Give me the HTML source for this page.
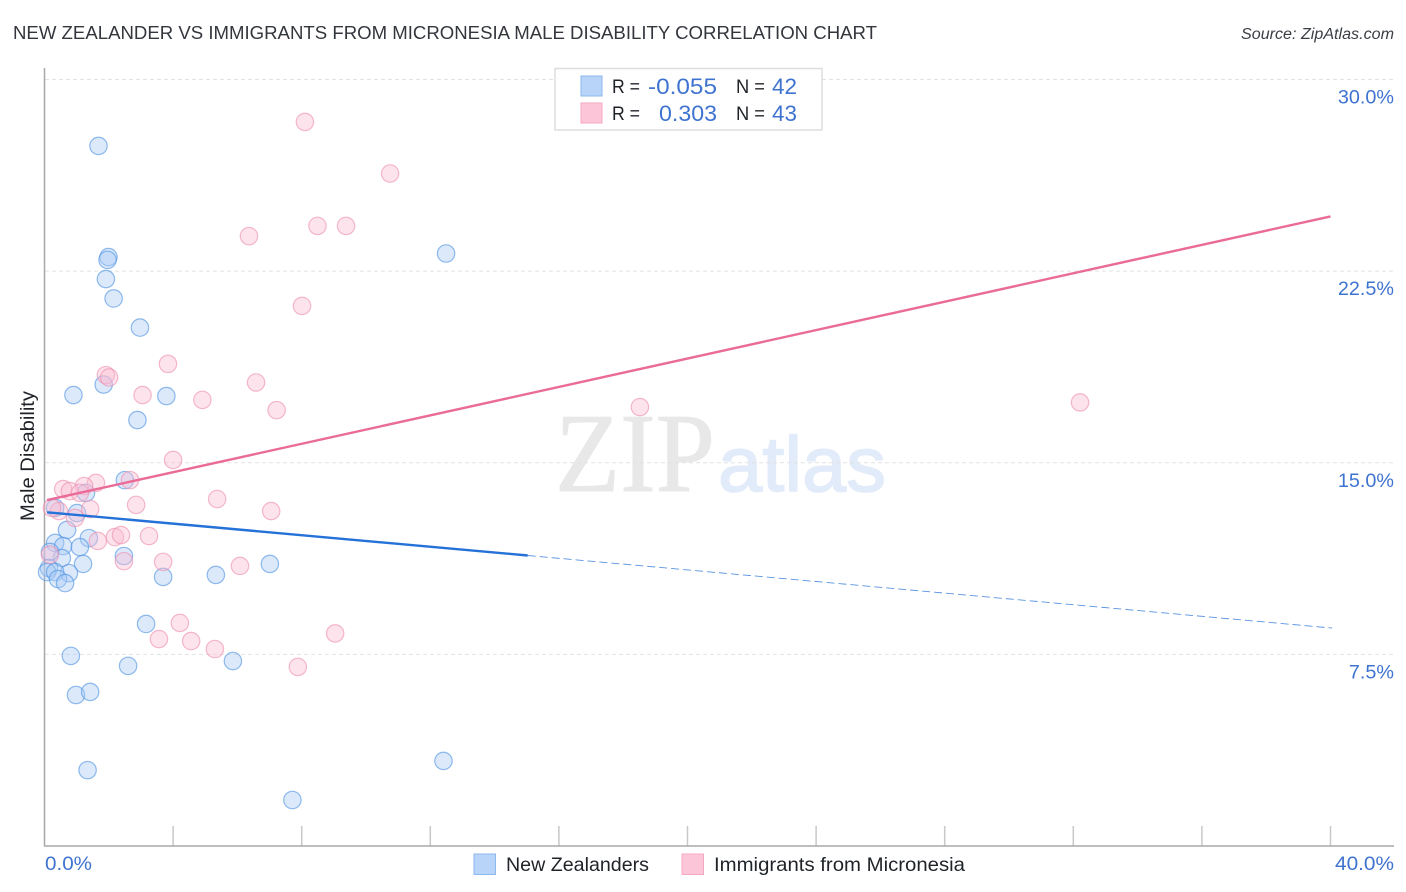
<!DOCTYPE html>
<html>
<head>
<meta charset="utf-8">
<title>New Zealander vs Immigrants from Micronesia Male Disability Correlation Chart</title>
<style>
html,body{margin:0;padding:0;background:#fff;width:1406px;height:892px;overflow:hidden}
svg{display:block;font-family:"Liberation Sans",sans-serif}
</style>
</head>
<body>
<svg id="chart" width="1406" height="892" viewBox="0 0 1406 892" xmlns="http://www.w3.org/2000/svg">
  <rect x="0" y="0" width="1406" height="892" fill="#ffffff"/>
  <g>
    <text x="555" y="491" font-family="'Liberation Serif',serif" font-size="112" fill="#e8e8e8" stroke="#e8e8e8" stroke-width="1" textLength="160" lengthAdjust="spacingAndGlyphs">ZIP</text>
    <text x="718" y="491" font-size="78" fill="#e2ebf9" stroke="#e2ebf9" stroke-width="1.5" textLength="168" lengthAdjust="spacingAndGlyphs">atlas</text>
  </g>
  <g id="grid"></g>
  <g id="xticks"></g>
  <line x1="44.5" y1="68" x2="44.5" y2="846" stroke="#a8a8a8" stroke-width="1.5"/>
  <line x1="44" y1="846" x2="1394" y2="846" stroke="#a8a8a8" stroke-width="1.5"/>
  <g id="points-blue"></g>
  <g id="points-pink"></g>
  <g id="lines"></g>
  <g id="ylabels"></g>
  <text x="45" y="870" font-size="19.5" fill="#3f73d0" textLength="47" lengthAdjust="spacingAndGlyphs">0.0%</text>
  <text x="1335" y="870" font-size="19.5" fill="#3f73d0" textLength="59" lengthAdjust="spacingAndGlyphs">40.0%</text>
  <text x="13" y="39" font-size="18.5" fill="#33373d" textLength="864" lengthAdjust="spacingAndGlyphs">NEW ZEALANDER VS IMMIGRANTS FROM MICRONESIA MALE DISABILITY CORRELATION CHART</text>
  <text x="1241" y="39" font-size="15.5" font-style="italic" fill="#3a3f46" textLength="153" lengthAdjust="spacingAndGlyphs">Source: ZipAtlas.com</text>
  <text transform="translate(34,521) rotate(-90)" font-size="19" fill="#1f2328" textLength="130" lengthAdjust="spacingAndGlyphs">Male Disability</text>
  <g>
    <rect x="555" y="68.500" width="267" height="61.500" fill="#ffffff" stroke="#dedede" stroke-width="1.5"/>
    <rect x="581" y="76" width="21" height="20" fill="#b8d4f8" stroke="#8db8ec" stroke-width="1"/>
    <rect x="581" y="103" width="21" height="20" fill="#fcc6d8" stroke="#f3a9c2" stroke-width="1"/>
    <text x="612" y="93" font-size="19.500" fill="#1f2328" textLength="28" lengthAdjust="spacingAndGlyphs">R =</text>
    <text x="648" y="94" font-size="22" fill="#3f73d0" textLength="69" lengthAdjust="spacingAndGlyphs">-0.055</text>
    <text x="736" y="93" font-size="19.500" fill="#1f2328" textLength="29" lengthAdjust="spacingAndGlyphs">N =</text>
    <text x="772" y="94" font-size="22" fill="#3f73d0" textLength="25" lengthAdjust="spacingAndGlyphs">42</text>
    <text x="612" y="120" font-size="19.500" fill="#1f2328" textLength="28" lengthAdjust="spacingAndGlyphs">R =</text>
    <text x="659" y="121" font-size="22" fill="#3f73d0" textLength="58" lengthAdjust="spacingAndGlyphs">0.303</text>
    <text x="736" y="120" font-size="19.500" fill="#1f2328" textLength="29" lengthAdjust="spacingAndGlyphs">N =</text>
    <text x="772" y="121" font-size="22" fill="#3f73d0" textLength="25" lengthAdjust="spacingAndGlyphs">43</text>
  </g>
  <g>
    <rect x="474" y="854" width="21.500" height="20.500" fill="#b8d4f8" stroke="#8db8ec" stroke-width="1"/>
    <text x="506" y="871" font-size="19.500" fill="#1f2328" textLength="143" lengthAdjust="spacingAndGlyphs">New Zealanders</text>
    <rect x="682" y="854" width="21.500" height="20.500" fill="#fcc6d8" stroke="#f3a9c2" stroke-width="1"/>
    <text x="714" y="871" font-size="19.500" fill="#1f2328" textLength="251" lengthAdjust="spacingAndGlyphs">Immigrants from Micronesia</text>
  </g>
</svg>
<script>
const yTickValues = [7.5, 15, 22.5, 30];
const yTickLabels = ["7.5%", "15.0%", "22.5%", "30.0%"];
const xTickValues = [0, 4, 8, 12, 16, 20, 24, 28, 32, 36, 40];

const blueX = [1.68,1.99,1.96,1.91,2.15,2.97,12.49,0.90,1.84,3.79,2.89,2.50,1.29,0.33,1.01,0.70,1.38,0.33,0.58,1.10,0.54,0.17,2.47,1.20,7.01,0.14,0.08,0.76,0.33,0.42,0.64,3.69,5.33,3.16,0.82,2.60,5.86,0.98,1.42,1.34,12.41,7.71];
const blueY = [27.40,23.05,22.94,22.19,21.43,20.29,23.19,17.65,18.06,17.61,16.67,14.32,13.82,13.23,13.03,12.37,12.05,11.86,11.74,11.70,11.27,11.51,11.35,11.04,11.04,10.88,10.72,10.68,10.72,10.45,10.29,10.53,10.61,8.69,7.44,7.05,7.24,5.91,6.03,2.97,3.33,1.80];

const pinkX = [4.00,5.37,7.05,2.85,2.66,1.60,1.23,0.58,0.79,1.10,1.42,0.45,0.95,0.23,1.66,2.19,2.38,3.25,2.47,3.69,6.08,4.21,3.56,4.56,5.30,7.88,0.17,8.10,10.75,6.36,8.49,9.38,8.01,3.84,1.91,2.01,3.05,4.91,6.58,7.22,18.52,32.21,9.04];
const pinkY = [15.11,13.58,13.11,13.35,14.32,14.21,14.09,13.97,13.89,13.82,13.19,13.11,12.84,13.23,11.94,12.09,12.17,12.13,11.15,11.12,10.96,8.73,8.10,8.02,7.71,7.01,11.40,28.34,26.32,23.87,24.27,24.27,21.14,18.87,18.43,18.34,17.65,17.46,18.14,17.06,17.18,17.36,8.32];

const blueTrendStart = [0.08, 13.06];
const blueTrendSolidEnd = [15.03, 11.37];
const blueTrendDashedEnd = [40.05, 8.53];
const pinkTrendStart = [0.08, 13.54];
const pinkTrendEnd = [40, 24.64];

const NS = "http://www.w3.org/2000/svg";
function xScale(v) { return 44.5 + v * 32.15; }
function yScale(v) { return 846 - v * 25.55; }
function make(tag, attrs, parent) {
  const el = document.createElementNS(NS, tag);
  for (const k in attrs) el.setAttribute(k, attrs[k]);
  parent.appendChild(el);
  return el;
}

const gridG = document.getElementById("grid");
const yLabelG = document.getElementById("ylabels");
yTickValues.forEach(function (v, i) {
  const line = make("line", {x1: 45, x2: 1394, y1: yScale(v), y2: yScale(v), stroke: "#e2e2e2", "stroke-width": 1, "stroke-dasharray": "4 3"}, gridG);
  
  
  const label = make("text", {x: 1394, y: yScale(v) + 24, "font-size": 19.8, fill: "#3f73d0", "text-anchor": "end"}, yLabelG);
  label.textContent = yTickLabels[i];
  
  
});

const xTickG = document.getElementById("xticks");
xTickValues.forEach(function (v) {
  if (v === 0) return;
  const tick = make("line", {x1: xScale(v), x2: xScale(v), y1: 826, y2: 846, stroke: "#c8c8c8", "stroke-width": 1.5}, xTickG);
  
  
});

const blueG = document.getElementById("points-blue");
blueX.forEach(function (v, i) {
  const dot = make("circle", {cx: xScale(v), cy: yScale(blueY[i]), r: 8.7, fill: "#a9cbf5", "fill-opacity": 0.42, stroke: "#4f93e0", "stroke-opacity": 0.62, "stroke-width": 1.2}, blueG);
  
  
});

const pinkG = document.getElementById("points-pink");
pinkX.forEach(function (v, i) {
  const dot = make("circle", {cx: xScale(v), cy: yScale(pinkY[i]), r: 8.7, fill: "#fbbcd1", "fill-opacity": 0.42, stroke: "#ee8fb0", "stroke-opacity": 0.62, "stroke-width": 1.2}, pinkG);
  
  
});

const lineG = document.getElementById("lines");
const blueDash = make("line", {x1: xScale(blueTrendSolidEnd[0]), y1: yScale(blueTrendSolidEnd[1]), x2: xScale(blueTrendDashedEnd[0]), y2: yScale(blueTrendDashedEnd[1]), stroke: "#2f78d8", "stroke-width": 0.9, "stroke-opacity": 0.8, "stroke-dasharray": "8 4"}, lineG);


const blueSolid = make("line", {x1: xScale(blueTrendStart[0]), y1: yScale(blueTrendStart[1]), x2: xScale(blueTrendSolidEnd[0]), y2: yScale(blueTrendSolidEnd[1]), stroke: "#2471d8", "stroke-width": 2.4}, lineG);


const pinkSolid = make("line", {x1: xScale(pinkTrendStart[0]), y1: yScale(pinkTrendStart[1]), x2: xScale(pinkTrendEnd[0]), y2: yScale(pinkTrendEnd[1]), stroke: "#ea6b98", "stroke-width": 2.4}, lineG);


</script>
</body>
</html>
